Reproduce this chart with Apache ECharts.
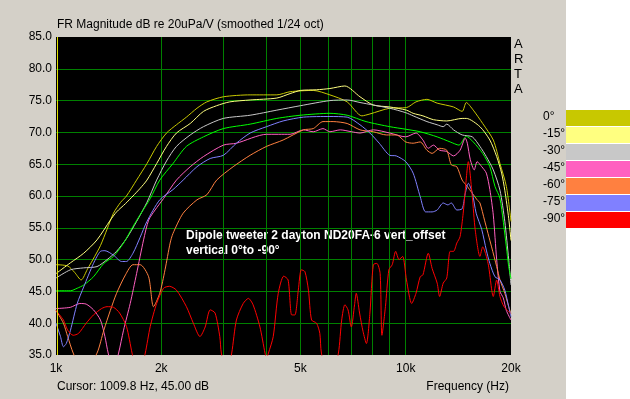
<!DOCTYPE html>
<html>
<head>
<meta charset="utf-8">
<script src="https://cdn.jsdelivr.net/npm/echarts@6/dist/echarts.min.js"></script>
<style>
  html, body { margin: 0; padding: 0; background: #d4d0c8; }
  #main { width: 630px; height: 399px; }
</style>
</head>
<body>
<div id="main"></div>
<script>
// legend entries (angle) and the colours ARTA gives them
var angleNames = ['0°', '-15°', '-30°', '-45°', '-60°', '-75°', '-90°'];
var angleColors = ['#c8c800', '#ffff80', '#c8c8c8', '#ff60c0', '#ff8040', '#8080ff', '#ff0000'];

// axis ticks
var yTicks = [35, 40, 45, 50, 55, 60, 65, 70, 75, 80, 85];
var xLabelFreqs = [1000, 2000, 5000, 10000, 20000];
var xGridFreqs = [2000, 3000, 4000, 5000, 6000, 7000, 8000, 9000, 10000];
var cursorFreq = 1009.8;

// measured curves, [Hz, dB]
var deg0 = [[1000,49.2],[1080,49.0],[1130,48.0],[1180,46.8],[1230,48.5],[1290,50.5],[1340,52.2],[1400,54.8],[1460,57.3],[1530,59.0],[1590,60.0],[1700,62.5],[1820,65.1],[1940,67.8],[2070,69.9],[2210,71.2],[2360,72.4],[2530,73.8],[2700,74.8],[3010,75.6],[3590,75.9],[4280,75.9],[4670,76.4],[5440,76.6],[6070,75.9],[6800,74.8],[7490,72.6],[7900,72.9],[9000,73.8],[10050,73.9],[10700,74.8],[11500,75.2],[12300,74.6],[13700,74.0],[14500,73.3],[14900,74.7],[15600,73.5],[16600,71.4],[17800,68.8],[18600,65.1],[19400,61.5],[20000,56.0]];
var deg15 = [[1000,47.8],[1100,49.5],[1200,51.0],[1310,53.1],[1430,56.2],[1490,57.5],[1580,58.8],[1660,60.0],[1740,61.2],[1820,62.5],[1940,65.1],[2070,67.8],[2210,69.9],[2420,71.4],[2640,73.3],[2880,74.2],[3140,74.8],[3590,75.1],[4280,75.4],[4670,76.1],[5000,76.6],[5560,76.7],[6070,76.9],[6700,77.3],[7400,75.6],[8080,74.3],[9000,74.0],[10050,73.5],[10500,73.0],[11200,72.6],[12000,72.0],[13100,71.8],[14500,72.2],[14900,72.2],[16300,70.9],[17400,68.8],[18200,66.2],[18800,63.6],[19200,60.9],[19700,56.5],[20000,53.0]];
var deg30 = [[1000,47.1],[1100,48.4],[1200,48.7],[1310,48.9],[1400,50.0],[1490,51.3],[1590,53.3],[1700,56.0],[1820,59.0],[1940,62.5],[2070,65.5],[2210,67.8],[2420,69.6],[2640,70.9],[3010,72.2],[3590,72.7],[4280,73.5],[5000,74.2],[6070,75.0],[6800,75.1],[7400,74.7],[9000,73.8],[10000,73.1],[10500,72.6],[11500,71.7],[12300,71.2],[12800,70.9],[13100,71.3],[13700,70.4],[14500,69.6],[15500,69.3],[16300,67.8],[17000,66.2],[17800,64.1],[18600,60.9],[19200,56.0],[19700,50.0],[20000,46.0]];
var extraGreen = [[1000,45.1],[1100,45.1],[1150,45.5],[1200,46.0],[1280,47.3],[1370,49.4],[1460,50.5],[1560,52.6],[1660,55.2],[1760,57.5],[1860,59.6],[1980,62.5],[2160,65.1],[2360,67.8],[2640,69.3],[3010,70.6],[3590,71.3],[4280,72.2],[5000,72.7],[6070,73.0],[6800,72.7],[7700,71.7],[9000,70.9],[10000,70.5],[11000,70.1],[12300,69.3],[13400,68.5],[14200,68.0],[14900,69.4],[15600,68.5],[16600,66.7],[17400,64.6],[18000,61.5],[18600,59.6],[19400,52.0],[19700,48.9],[20000,47.0]];
var deg45 = [[1000,42.3],[1100,42.5],[1170,43.1],[1220,43.0],[1280,42.1],[1340,40.5],[1380,37.9],[1410,35.3],[1460,32.5],[1510,35.3],[1560,38.9],[1630,43.1],[1700,47.8],[1780,53.1],[1840,56.2],[1920,57.8],[2030,59.6],[2210,62.5],[2420,64.6],[2640,66.2],[3010,68.0],[3280,68.3],[4000,69.7],[4670,69.7],[5100,70.4],[5440,70.1],[5800,70.6],[6070,70.1],[6500,70.4],[7000,70.1],[7400,69.9],[8080,70.4],[9000,69.9],[10000,69.3],[10700,69.9],[11200,68.8],[11600,67.5],[12000,68.0],[12500,67.2],[13100,67.0],[13700,66.3],[14300,67.2],[14800,69.1],[15000,68.3],[15300,65.7],[15700,64.1],[16000,65.4],[16500,64.6],[17000,63.6],[17400,61.0],[17800,57.0],[18200,50.0],[18600,45.0],[19000,44.0],[19400,42.0],[20000,40.5]];
var deg60 = [[1000,42.0],[1050,40.0],[1080,37.9],[1120,35.3],[1200,32.0],[1310,35.3],[1370,38.9],[1430,42.0],[1490,44.7],[1580,47.6],[1660,49.2],[1740,49.2],[1840,47.3],[1900,42.6],[1980,44.7],[2050,48.4],[2120,52.6],[2160,54.1],[2310,57.3],[2530,59.4],[2700,60.2],[2880,62.5],[3210,64.6],[3590,66.4],[4000,67.8],[4460,68.8],[5100,70.4],[5440,70.6],[5800,71.7],[6200,71.7],[6800,71.4],[7400,70.4],[8080,70.1],[8800,69.6],[9400,69.6],[10000,68.5],[10500,68.3],[11000,68.5],[11500,67.2],[11900,66.7],[12500,67.5],[13100,67.2],[13500,64.9],[14000,64.6],[14500,62.5],[15000,61.5],[16000,59.4],[16300,58.9],[16800,56.2],[17600,52.0],[18200,48.9],[18600,46.8],[19200,44.7],[19700,42.6],[20000,41.5]];
var deg75 = [[1000,40.0],[1030,37.9],[1050,36.3],[1070,36.8],[1100,38.9],[1150,43.1],[1200,45.7],[1280,49.4],[1340,51.3],[1380,51.4],[1460,50.7],[1540,49.7],[1590,49.7],[1660,51.0],[1740,53.5],[1820,56.0],[1980,59.4],[2160,61.0],[2310,62.5],[2530,64.6],[2760,65.9],[3010,66.4],[3280,68.3],[3590,69.9],[4000,70.9],[4460,71.8],[5100,72.4],[6070,72.5],[6800,72.4],[7400,71.2],[7900,69.9],[8400,68.3],[9000,66.4],[9400,66.3],[10000,65.4],[10500,63.6],[11000,59.9],[11400,57.5],[11900,57.5],[12300,57.8],[12800,58.9],[13200,58.6],[13500,58.9],[14000,57.8],[14500,58.0],[14800,60.4],[15100,62.0],[15500,60.5],[15900,57.3],[16500,54.7],[17000,51.5],[17400,49.4],[18000,47.3],[18600,46.8],[19200,45.2],[19700,42.6],[20000,41.0]];
var deg90 = [[1000,42.0],[1050,40.5],[1080,38.9],[1120,38.1],[1160,38.4],[1220,40.0],[1280,41.3],[1350,42.3],[1400,42.6],[1460,42.5],[1520,41.6],[1590,39.5],[1650,35.3],[1720,31.0],[1800,35.3],[1860,39.5],[1940,43.1],[2030,45.5],[2110,45.8],[2210,45.2],[2360,42.6],[2470,40.0],[2580,37.9],[2670,39.4],[2760,42.1],[2850,41.6],[2940,37.9],[2970,35.3],[3080,32.0],[3180,35.3],[3280,40.5],[3430,43.1],[3550,43.9],[3660,42.9],[3830,39.4],[3960,35.3],[4000,34.5],[4050,35.3],[4180,37.9],[4320,44.7],[4480,47.4],[4610,46.8],[4720,41.3],[4820,41.3],[4930,45.2],[5030,48.4],[5150,48.1],[5270,45.2],[5380,40.5],[5560,40.0],[5680,38.4],[5740,35.3],[6080,30.0],[6420,35.3],[6560,40.5],[6700,42.9],[6840,42.1],[6990,39.4],[7140,42.9],[7220,44.7],[7380,41.6],[7550,38.7],[7720,36.8],[7900,41.6],[8080,49.2],[8270,49.4],[8450,47.8],[8550,38.1],[8750,42.6],[8950,48.4],[9150,49.2],[9360,51.3],[9570,50.0],[9800,50.5],[10050,46.8],[10400,43.1],[10700,44.7],[11000,47.3],[11200,47.6],[11600,51.0],[11900,48.6],[12300,46.3],[12500,44.2],[12800,46.3],[13100,47.1],[13400,51.3],[13700,51.3],[14000,52.6],[14300,53.6],[14600,57.3],[14800,60.9],[15100,65.4],[15500,59.9],[15800,54.7],[16300,50.5],[16600,52.0],[17200,49.4],[17800,44.2],[18200,46.8],[18600,44.2],[19100,42.6],[19900,41.6]];

var curves = [deg0, deg15, deg30, extraGreen, deg45, deg60, deg75, deg90];
var curveColors = [angleColors[0], angleColors[1], angleColors[2], '#00ff00', angleColors[3], angleColors[4], angleColors[5], angleColors[6]];

var font = '"Liberation Sans", Arial, sans-serif';
var myChart = echarts.init(document.getElementById('main'));

var series = [];
for (var i = 0; i < curves.length; i++) {
    series.push({
        type: 'line',
        data: curves[i],
        showSymbol: false,
        symbol: 'none',
        smooth: 0.25,
        clip: true,
        lineStyle: { color: curveColors[i], width: 1 },
        silent: true
    });
}
// yellow cursor line
series[0].markLine = {
    silent: true,
    symbol: 'none',
    label: { show: false },
    lineStyle: { color: '#e0e000', type: 'solid', width: 1 },
    data: [{ xAxis: cursorFreq }]
};

var graphics = [
    { type: 'rect', left: 566, top: 0, shape: { width: 64, height: 399 }, style: { fill: '#ffffff' } }
];
for (var k = 0; k < angleNames.length; k++) {
    graphics.push({ type: 'rect', left: 566, top: 110 + k * 17, shape: { width: 64, height: 16 }, style: { fill: angleColors[k] } });
    graphics.push({ type: 'text', left: 543, top: 111 + k * 17, style: { text: angleNames[k], font: '12px ' + font, fill: '#000' } });
}
var arta = ['A', 'R', 'T', 'A'];
for (var a = 0; a < arta.length; a++) {
    graphics.push({ type: 'text', left: 514, top: 38 + a * 15, style: { text: arta[a], font: '13px ' + font, fill: '#000' } });
}
graphics.push({ type: 'text', left: 57, top: 381, style: { text: 'Cursor: 1009.8 Hz, 45.00 dB', font: '12px ' + font, fill: '#000' } });
graphics.push({ type: 'text', right: 121, top: 381, style: { text: 'Frequency (Hz)', font: '12px ' + font, fill: '#000' } });
graphics.push({ type: 'text', left: 186, top: 230, style: { text: 'Dipole tweeter 2 dayton ND20FA-6 vert_offset', font: 'bold 12px ' + font, fill: '#ffffff' } });
graphics.push({ type: 'text', left: 186, top: 245, style: { text: 'vertical 0°to -90°', font: 'bold 12px ' + font, fill: '#ffffff' } });

myChart.setOption({
    animation: false,
    backgroundColor: '#d4d0c8',
    title: {
        text: 'FR Magnitude dB re 20uPa/V (smoothed 1/24 oct)',
        left: 52, top: 14,
        textStyle: { fontSize: 12, fontWeight: 'normal', color: '#000', fontFamily: font }
    },
    grid: {
        left: 56, top: 37, width: 455, height: 318,
        show: true, backgroundColor: '#000000', borderWidth: 0,
        outerBoundsMode: 'none', containLabel: false
    },
    xAxis: {
        type: 'log', logBase: 10, min: 1000, max: 20000,
        axisLine: { show: false },
        axisTick: { show: false, customValues: xGridFreqs },
        axisLabel: {
            customValues: xLabelFreqs,
            formatter: function (v) { return (v / 1000) + 'k'; },
            color: '#000', fontSize: 12, fontFamily: font, margin: 8
        },
        splitLine: { show: true, lineStyle: { color: '#008000', width: 1 } },
        minorTick: { show: false }, minorSplitLine: { show: false }
    },
    yAxis: {
        type: 'value', min: yTicks[0], max: yTicks[yTicks.length - 1], interval: 5,
        axisLine: { show: false },
        axisTick: { show: false },
        axisLabel: {
            formatter: function (v) { return v.toFixed(1); },
            color: '#000', fontSize: 12, fontFamily: font, margin: 4
        },
        splitLine: { show: true, showMinLine: false, showMaxLine: false, lineStyle: { color: '#008000', width: 1 } }
    },
    graphic: graphics,
    series: series
});
</script>
</body>
</html>
